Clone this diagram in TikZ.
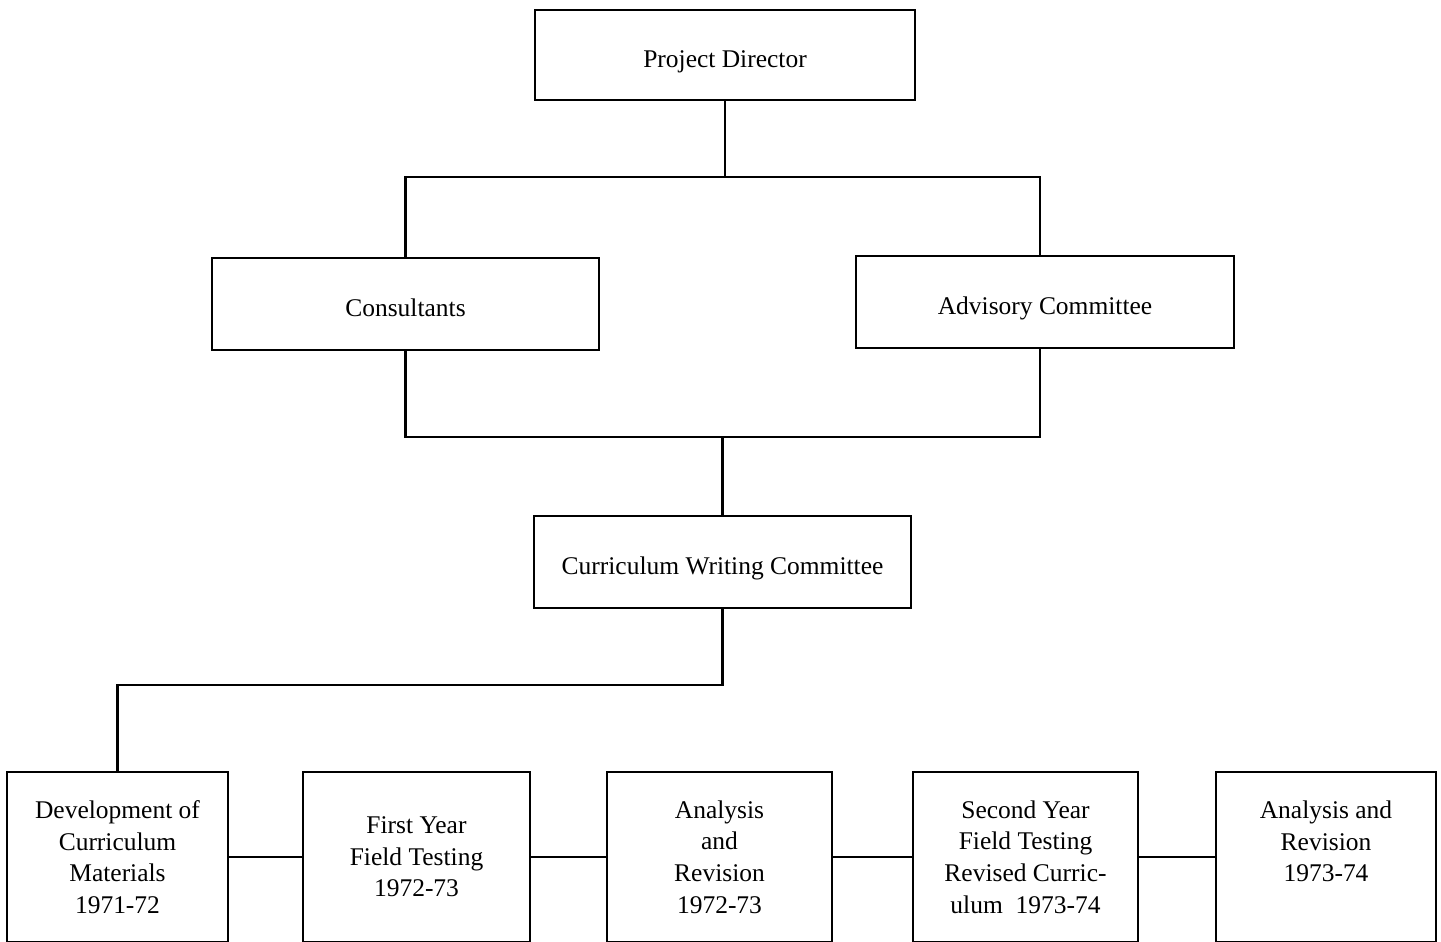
\documentclass[tikz,border=0pt]{standalone}
\usepackage{fontspec}
\setmainfont{Liberation Serif}
\usepackage{tikz}
\usetikzlibrary{positioning}
\tikzset{
    box/.style={rectangle, draw=black, line width=1.6pt, align=center,
        font=\fontsize{14.5}{18}\selectfont, inner sep=2pt},
    wide/.style={box, minimum width=7.6cm, minimum height=1.84cm,
        text height=18pt, text depth=3.5pt},
    tall/.style={box, minimum width=4.5cm, minimum height=3.4cm},
    link/.style={line width=1.6pt},
}

\begin{document}
\begin{tikzpicture}
    \useasboundingbox (0,0) rectangle (28.82,-18.82);
    \node[wide, minimum height=1.8cm] (pd) at (14.5,-1.1) {Project Director};
    \node[wide, minimum width=7.74cm] (cons) at (8.11,-6.08) {Consultants};
    \node[wide, minimum width=7.56cm] (adv) at (20.9,-6.04) {Advisory Committee};
    \node[wide, minimum width=7.54cm] (cwc) at (14.45,-11.24) {Curriculum Writing Committee};
    \node[tall, minimum width=4.42cm] (dev) at (2.35,-17.14) {Development of\\Curriculum\\Materials\\1971-72};
    \node[tall, minimum width=4.54cm] (fyt) at (8.33,-17.14) {First Year\\Field Testing\\1972-73};
    \node[tall] (ar1) at (14.39,-17.14) {Analysis\\and\\Revision\\1972-73};
    \node[tall] (syt) at (20.51,-17.14) {Second Year\\Field Testing\\Revised Curric-\\ulum\ \ 1973-74};
    \node[tall, minimum width=4.4cm] (ar2) at (26.52,-17.14) {Analysis and\\Revision\\1973-74\\\mbox{}};
    \coordinate (topbus) at (14.5,-3.54);
    \coordinate (lowbus) at (14.45,-8.74);
    \coordinate (bend) at (14.45,-13.7);
    \draw[link] (pd) -- (topbus);
    \draw[link] (cons.north) |- (topbus) -| ([xshift=-0.1cm]adv.north);
    \draw[link] (cons.south) |- (lowbus) -| ([xshift=-0.1cm]adv.south);
    \draw[link] (lowbus) -- (cwc);
    \draw[link] (cwc) -- (bend) -| (dev.north);
    \draw[link] (dev) -- (fyt);
    \draw[link] (fyt) -- (ar1);
    \draw[link] (ar1) -- (syt);
    \draw[link] (syt) -- (ar2);
\end{tikzpicture}
\end{document}
